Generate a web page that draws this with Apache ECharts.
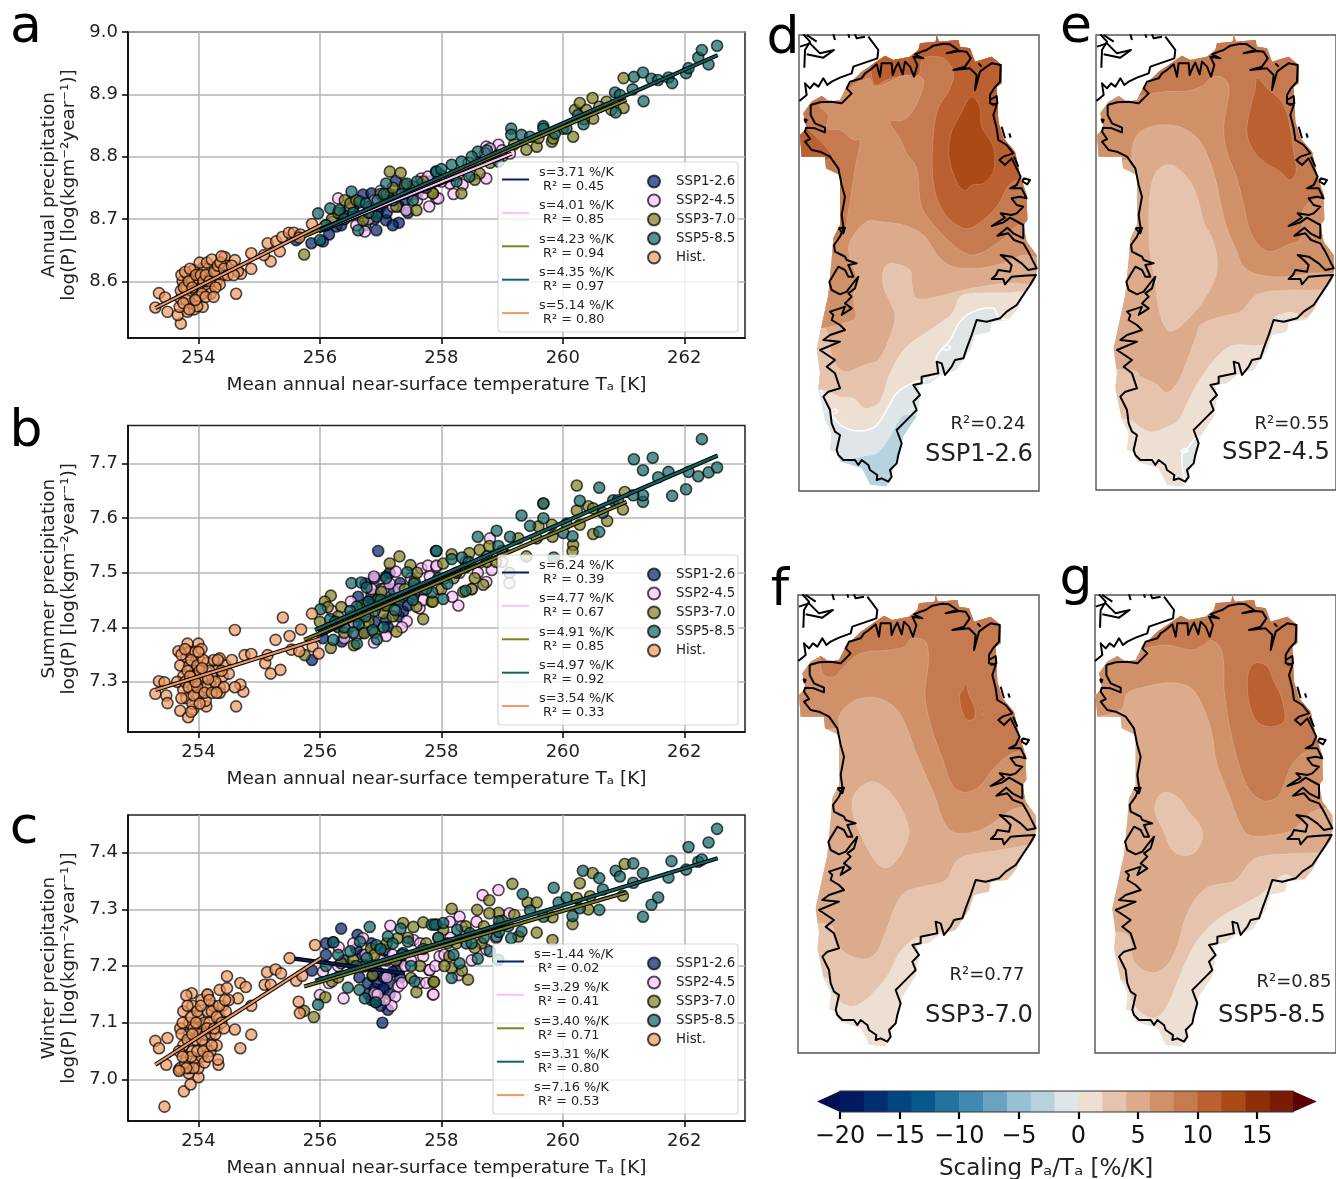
<!DOCTYPE html>
<html><head><meta charset="utf-8">
<style>html,body{margin:0;padding:0;background:#fff}#c{width:1336px;height:1179px}</style>
<script src="https://cdn.jsdelivr.net/npm/echarts@6/dist/echarts.min.js"></script>
</head><body><div id="c"></div>
<script>
const categories=['SSP1-2.6','SSP2-4.5','SSP3-7.0','SSP5-8.5','Hist.'];
const xTicks=[254,256,258,260,262];
const aTicks=[8.6,8.7,8.8,8.9,9.0], bTicks=[7.3,7.4,7.5,7.6,7.7], cTicks=[7.0,7.1,7.2,7.3,7.4];
const aStats=['s=3.71 %/K\n R² = 0.45','s=4.01 %/K\n R² = 0.85','s=4.23 %/K\n R² = 0.94','s=4.35 %/K\n R² = 0.97','s=5.14 %/K\n R² = 0.80'];
const bStats=['s=6.24 %/K\n R² = 0.39','s=4.77 %/K\n R² = 0.67','s=4.91 %/K\n R² = 0.85','s=4.97 %/K\n R² = 0.92','s=3.54 %/K\n R² = 0.33'];
const cStats=['s=-1.44 %/K\n R² = 0.02','s=3.29 %/K\n R² = 0.41','s=3.40 %/K\n R² = 0.71','s=3.31 %/K\n R² = 0.80','s=7.16 %/K\n R² = 0.53'];

// panel a: [temperature K, log P]
const aSsp1=[[255.86,8.661],[256.05,8.664],[256.93,8.682],[257.3,8.694],[257.09,8.698],[257.25,8.761],[256.71,8.739],[256.85,8.741],[256.27,8.688],[255.61,8.666],[256.4,8.71],[256.6,8.705],[256.9,8.7],[257,8.72],[257.1,8.71],[257.4,8.73],[257.6,8.74],[256.75,8.69],[256.55,8.72],[256.8,8.72],[256.95,8.71],[257.05,8.73],[257.2,8.69],[257.15,8.74],[257.3,8.72],[257.45,8.71],[256.35,8.69],[256.15,8.675],[257.7,8.75],[257.8,8.76]];
const aSsp2=[[256.3,8.733],[256.74,8.68],[257.67,8.765],[257.78,8.768],[257.42,8.714],[257.92,8.733],[257.95,8.733],[258.74,8.765],[258.74,8.816],[258.94,8.819],[258.8,8.813],[259.13,8.805],[258.72,8.805],[258.14,8.757],[258.28,8.773],[256.5,8.72],[256.6,8.69],[256.9,8.73],[257.2,8.72],[257.5,8.74],[258.45,8.79],[257,8.745],[257.8,8.72],[256.2,8.695],[256.4,8.7],[256.7,8.71],[256.8,8.7],[257.1,8.73],[257.3,8.74],[257.4,8.75],[257.6,8.73],[257.7,8.74],[258,8.76],[258.2,8.74],[258.35,8.755],[258.6,8.79],[258.5,8.77],[258.9,8.8],[259,8.81]];
const aSsp3=[[255.74,8.643],[256.41,8.73],[257.15,8.776],[257.33,8.774],[258.33,8.741],[257.86,8.741],[258.63,8.773],[258.55,8.763],[259.4,8.811],[259.57,8.816],[259.82,8.824],[259.84,8.829],[260.17,8.832],[260.2,8.875],[260.28,8.886],[260.49,8.894],[260.5,8.861],[261,8.926],[261,8.878],[260.39,8.875],[260.72,8.888],[257.53,8.752],[257.59,8.714],[257.26,8.72],[256.71,8.698],[256.2,8.7],[256.5,8.725],[257,8.74],[257.86,8.741],[256.1,8.69],[256.3,8.71],[256.6,8.73],[256.85,8.71],[257.1,8.74],[257.2,8.75],[257.4,8.755],[257.7,8.76],[258,8.77],[258.2,8.77],[258.8,8.79],[259,8.8],[259.2,8.82],[259.6,8.83],[260,8.845],[260.6,8.88],[260.8,8.875],[260.35,8.86]];
const aSsp5=[[255.97,8.709],[256.17,8.717],[256,8.666],[256.52,8.744],[256.63,8.682],[256.65,8.728],[256.76,8.725],[257.09,8.757],[257.43,8.757],[257.53,8.73],[257.91,8.776],[256.93,8.704],[256.32,8.714],[256.46,8.704],[257.92,8.776],[258.17,8.787],[258.33,8.792],[258.46,8.768],[258.6,8.808],[258.94,8.792],[259.15,8.845],[259.15,8.835],[259.32,8.835],[259.46,8.832],[259.68,8.849],[259.68,8.845],[259.87,8.837],[260.06,8.845],[260.34,8.852],[260.25,8.867],[260.86,8.903],[260.94,8.899],[260.87,8.871],[261.15,8.908],[261.17,8.928],[261.32,8.935],[261.33,8.889],[261.46,8.925],[261.57,8.923],[261.74,8.927],[261.8,8.918],[262.03,8.934],[262.07,8.942],[262.23,8.959],[262.4,8.948],[262.29,8.971],[262.54,8.978],[256.1,8.69],[256.4,8.7],[256.55,8.71],[256.8,8.71],[256.95,8.73],[257.05,8.74],[257.2,8.73],[257.35,8.74],[257.6,8.76],[257.75,8.75],[258,8.78],[258.25,8.76],[258.5,8.8],[258.75,8.81]];
const aHist=[[253.29,8.558],[253.35,8.581],[253.45,8.574],[253.49,8.551],[253.71,8.532],[253.66,8.546],[253.82,8.551],[253.93,8.555],[254.07,8.559],[253.69,8.559],[253.71,8.572],[253.71,8.585],[253.74,8.6],[253.82,8.608],[253.93,8.605],[254.07,8.621],[254.23,8.621],[254.34,8.618],[254.43,8.639],[254.6,8.634],[254.62,8.58],[254.87,8.645],[254.87,8.62],[254.7,8.612],[254.65,8.616],[255.14,8.661],[255.28,8.664],[255.19,8.632],[255.34,8.648],[255.08,8.642],[255.38,8.671],[255.49,8.678],[255.57,8.678],[255.68,8.675],[255.87,8.692],[255.66,8.67],[253.8,8.59],[253.85,8.575],[253.9,8.6],[253.95,8.585],[254,8.6],[254.05,8.59],[254,8.575],[253.88,8.565],[254.1,8.6],[254.15,8.585],[254.2,8.605],[254.25,8.6],[254.3,8.6],[254.4,8.61],[254.45,8.625],[254.35,8.595],[254.2,8.58],[254,8.61],[253.8,8.57],[253.92,8.618],[254.1,8.62],[254.3,8.615],[253.72,8.61],[253.76,8.59],[253.78,8.615],[253.84,8.6],[253.86,8.62],[253.9,8.59],[253.96,8.61],[253.98,8.56],[254.02,8.63],[254.04,8.61],[254.06,8.58],[254.08,8.6],[254.12,8.61],[254.14,8.63],[254.18,8.6],[254.22,8.635],[254.26,8.615],[254.28,8.59],[254.32,8.625],[254.36,8.63],[254.38,8.64],[254.42,8.62],[254.48,8.61],[254.55,8.625],[254.58,8.61],[253.75,8.565],[253.85,8.555],[253.95,8.57],[254.12,8.575],[254.25,8.575]];
// panel b
const bSsp1=[[256.96,7.54],[255.87,7.34],[256.63,7.456],[257.37,7.429],[257.09,7.493],[257.32,7.481],[256.36,7.374],[256.05,7.38],[257.09,7.414],[256.8,7.447],[257.37,7.456],[256.5,7.42],[256.9,7.41],[257.15,7.45],[256.7,7.39],[257,7.47],[256.3,7.4],[256.6,7.41],[256.75,7.44],[256.85,7.46],[256.95,7.45],[257.05,7.44],[257.12,7.4],[257.2,7.47],[257.25,7.45],[257.3,7.42],[257.45,7.44],[257.55,7.46],[256.75,7.48],[256.9,7.49],[257.15,7.5]];
const bSsp2=[[256.89,7.493],[257.43,7.411],[257.09,7.384],[256.89,7.372],[256.51,7.447],[257.25,7.502],[257.67,7.508],[257.78,7.513],[257.92,7.511],[257.92,7.513],[258.28,7.44],[258.18,7.456],[258.74,7.483],[258.8,7.563],[258.83,7.505],[259.12,7.481],[257.81,7.493],[256.65,7.43],[256.95,7.44],[257.25,7.43],[257.6,7.47],[258.4,7.52],[258.6,7.5],[257.64,7.435],[256.2,7.43],[256.3,7.41],[256.45,7.4],[256.55,7.41],[256.8,7.42],[256.85,7.47],[257.05,7.47],[257.15,7.48],[257.3,7.47],[257.5,7.49],[257.7,7.45],[257.95,7.47],[258.05,7.49],[258.3,7.5],[258.5,7.47],[258.65,7.52],[259,7.52],[256.4,7.38],[256.6,7.385],[257.35,7.4]];
const bSsp3=[[256.18,7.458],[256.08,7.447],[256.13,7.437],[256.35,7.437],[256.18,7.362],[255.75,7.349],[257.15,7.517],[257.31,7.53],[257.49,7.514],[257.56,7.484],[257.7,7.415],[257.26,7.392],[256.56,7.367],[257.01,7.465],[257.04,7.426],[256.73,7.389],[257.59,7.438],[257.84,7.447],[260.23,7.66],[259.68,7.627],[260.23,7.614],[260.42,7.622],[260.5,7.618],[261.02,7.648],[260.99,7.616],[260.73,7.595],[260.5,7.571],[260.28,7.588],[260.17,7.551],[260.16,7.539],[259.83,7.566],[259.57,7.563],[259.82,7.588],[259.6,7.585],[259.27,7.563],[259.4,7.53],[259.12,7.5],[258.69,7.478],[258.55,7.49],[258.36,7.465],[258.17,7.534],[258.03,7.517],[257.86,7.447],[258.63,7.542],[258.46,7.536],[258.79,7.549],[256.3,7.42],[256.4,7.39],[256.6,7.42],[256.7,7.44],[256.8,7.41],[256.9,7.39],[256.95,7.45],[257.1,7.44],[257.2,7.42],[257.4,7.47],[257.6,7.5],[257.7,7.47],[258,7.47],[258.2,7.49],[258.4,7.51],[258.5,7.47],[258.75,7.52],[258.9,7.52],[259,7.54],[256,7.41]];
const bSsp5=[[256.01,7.433],[256.17,7.415],[256.22,7.377],[256.52,7.481],[256.68,7.482],[256.77,7.473],[256.61,7.438],[256.64,7.406],[256.61,7.37],[256.87,7.395],[256.94,7.378],[257.09,7.49],[257.23,7.432],[257.44,7.501],[257.53,7.45],[257.85,7.464],[257.91,7.54],[256.8,7.447],[257.92,7.54],[258.17,7.525],[258.34,7.528],[258.03,7.452],[258.4,7.467],[258.6,7.566],[258.91,7.577],[258.94,7.549],[259.13,7.566],[259.32,7.605],[259.46,7.586],[259.68,7.627],[259.68,7.6],[259.85,7.528],[260.01,7.573],[260.06,7.59],[260.16,7.567],[260.28,7.632],[260.6,7.656],[260.6,7.575],[260.66,7.61],[260.83,7.633],[260.91,7.633],[261.17,7.708],[261.32,7.688],[261.48,7.711],[261.32,7.63],[261.32,7.642],[261.16,7.642],[261.57,7.675],[261.74,7.685],[261.8,7.641],[262.03,7.653],[262.07,7.685],[262.23,7.677],[262.4,7.684],[262.54,7.693],[262.29,7.745],[256.25,7.41],[256.4,7.4],[256.5,7.43],[256.55,7.39],[256.75,7.42],[256.9,7.43],[257,7.45],[257.05,7.4],[257.3,7.45],[257.55,7.48],[257.75,7.47],[257.95,7.49],[258.1,7.48],[258.25,7.5],[258.45,7.52],[258.75,7.53]];
const bHist=[[253.29,7.278],[253.35,7.301],[253.44,7.299],[253.47,7.275],[253.49,7.261],[253.7,7.247],[253.83,7.235],[253.91,7.249],[254.13,7.255],[254.62,7.255],[254.74,7.282],[254.69,7.295],[254.6,7.395],[253.82,7.37],[254,7.37],[253.67,7.356],[254.35,7.343],[254.76,7.349],[254.87,7.351],[255.1,7.334],[255.14,7.349],[255.19,7.315],[255.35,7.322],[255.27,7.377],[255.39,7.418],[255.5,7.384],[255.53,7.359],[255.69,7.396],[255.87,7.425],[255.66,7.356],[255.88,7.365],[255.98,7.352],[253.7,7.33],[253.75,7.31],[253.8,7.345],[253.85,7.33],[253.85,7.355],[253.9,7.29],[253.95,7.32],[254,7.345],[254,7.3],[254.05,7.28],[254.1,7.31],[254.15,7.335],[254.2,7.295],[254.25,7.34],[254.3,7.32],[254.35,7.29],[254.4,7.31],[254.45,7.33],[254.5,7.315],[254.55,7.34],[253.75,7.285],[253.8,7.27],[253.9,7.26],[254,7.275],[254.12,7.265],[253.95,7.355],[254.05,7.36],[253.65,7.3],[254.35,7.28],[254.6,7.29],[253.72,7.35],[253.78,7.36],[253.82,7.32],[253.88,7.34],[253.92,7.31],[253.98,7.33],[254.02,7.32],[254.08,7.34],[254.12,7.29],[254.18,7.32],[254.22,7.31],[254.28,7.3],[254.32,7.34],[254.38,7.32],[254.42,7.29],[253.78,7.3],[253.84,7.29],[253.92,7.275],[253.98,7.29],[254.02,7.26],[254.1,7.28],[254.22,7.28],[253.72,7.27],[253.86,7.31],[254,7.355],[253.95,7.3],[254.06,7.325],[254.16,7.305],[254.3,7.28],[253.88,7.245]];
// panel c
const cSsp1=[[256.35,7.266],[256.1,7.24],[256.22,7.242],[255.87,7.192],[257.03,7.1],[257.12,7.123],[256.92,7.137],[256.62,7.255],[257.07,7.229],[257.37,7.223],[257.32,7.179],[256.79,7.17],[256.98,7.158],[256.87,7.182],[257.14,7.17],[257.26,7.193],[256.65,7.18],[256.9,7.16],[257,7.13],[256.95,7.19],[256.7,7.22],[256.1,7.22],[256.4,7.21],[256.55,7.2],[256.75,7.2],[256.8,7.15],[256.85,7.14],[256.95,7.17],[257.05,7.16],[257.1,7.21],[257.15,7.15],[257.2,7.19],[257.3,7.21],[256.6,7.23],[256.85,7.24],[257.05,7.18],[256.98,7.14]];
const cSsp2=[[256.39,7.143],[256.05,7.19],[256.31,7.233],[256.71,7.249],[257.16,7.271],[257.54,7.246],[257.24,7.146],[257.18,7.13],[256.9,7.152],[257.07,7.14],[256,7.149],[257.29,7.164],[257.86,7.15],[257.8,7.193],[257.64,7.17],[257.87,7.15],[257.81,7.193],[258.14,7.278],[258.3,7.287],[258.33,7.27],[258.58,7.278],[258.68,7.325],[258.94,7.334],[259.12,7.293],[258.74,7.229],[258.28,7.184],[257.97,7.217],[257.7,7.217],[256.15,7.17],[256.3,7.2],[256.55,7.24],[256.75,7.22],[257,7.21],[257.1,7.18],[257.2,7.22],[257.4,7.2],[257.5,7.21],[257.65,7.24],[257.75,7.17],[257.9,7.2],[258.05,7.22],[258.15,7.25],[258.4,7.26],[258.5,7.21],[258.9,7.25],[256.95,7.15],[257.35,7.17]];
const cSsp3=[[256.09,7.145],[255.9,7.11],[255.74,7.121],[256.2,7.173],[257.37,7.276],[257.54,7.269],[257.7,7.277],[257.59,7.154],[257.87,7.172],[257.5,7.179],[257.28,7.249],[256.84,7.231],[256.35,7.205],[256.71,7.199],[256.87,7.184],[257.88,7.172],[258.17,7.301],[258.59,7.299],[258.79,7.316],[258.94,7.294],[258.79,7.293],[259.17,7.345],[259.42,7.312],[259.57,7.312],[259.57,7.259],[259.83,7.246],[259.83,7.286],[260.16,7.274],[260.23,7.32],[260.28,7.346],[260.49,7.364],[260.45,7.323],[260.42,7.3],[260.99,7.324],[261.02,7.38],[258.44,7.176],[258.34,7.192],[258.17,7.196],[258.13,7.217],[258.66,7.24],[258.55,7.232],[259.27,7.252],[258.95,7.27],[258.03,7.264],[256.3,7.18],[256.55,7.21],[256.9,7.22],[257.1,7.24],[257.25,7.21],[257.45,7.25],[257.65,7.2],[257.75,7.24],[257.95,7.25],[258.05,7.2],[258.25,7.24],[258.4,7.27],[258.7,7.27],[259,7.28],[259.2,7.29]];
const cSsp5=[[255.97,7.132],[256.22,7.242],[256.82,7.269],[256.46,7.162],[256.65,7.158],[256.74,7.143],[256.92,7.136],[257.12,7.252],[256.93,7.237],[256.66,7.243],[256.5,7.226],[256.77,7.214],[257.33,7.266],[257.45,7.243],[257.56,7.173],[257.84,7.273],[257.92,7.273],[257.89,7.273],[258.03,7.276],[258.26,7.264],[258.47,7.258],[258.41,7.24],[258.17,7.179],[258.3,7.205],[258.6,7.213],[258.8,7.226],[258.94,7.211],[258.91,7.252],[258.95,7.279],[259.15,7.249],[259.34,7.327],[259.32,7.261],[259.46,7.298],[259.68,7.287],[259.85,7.338],[259.93,7.312],[260.06,7.321],[260.16,7.288],[260.28,7.302],[260.33,7.368],[260.6,7.355],[260.6,7.299],[260.66,7.335],[260.87,7.368],[260.94,7.358],[261.16,7.381],[261.16,7.347],[261.32,7.364],[261.32,7.287],[261.46,7.308],[261.57,7.321],[261.74,7.356],[261.79,7.385],[262.03,7.37],[262.07,7.41],[262.23,7.384],[262.29,7.388],[262.4,7.418],[262.54,7.442],[256.1,7.2],[256.3,7.22],[256.6,7.2],[256.85,7.2],[257,7.23],[257.2,7.24],[257.35,7.22],[257.5,7.2],[257.7,7.23],[257.95,7.25],[258.1,7.24],[258.2,7.22],[258.5,7.24],[258.7,7.25],[258.95,7.26],[259.1,7.27]];
const cHist=[[253.44,6.952],[253.76,6.979],[253.87,6.991],[254,7.004],[253.29,7.068],[253.35,7.055],[253.49,7.073],[253.47,7.026],[253.68,7.017],[253.84,7.011],[254.33,7.026],[254.32,7.035],[254.69,7.055],[254.87,7.079],[254.6,7.088],[253.89,7.152],[253.8,7.148],[254.15,7.149],[254.35,7.158],[254.47,7.182],[254.47,7.161],[254.69,7.17],[254.78,7.163],[254.65,7.143],[254.87,7.13],[255.09,7.167],[255.19,7.167],[255.13,7.189],[255.27,7.194],[255.36,7.187],[255.5,7.214],[255.61,7.174],[255.71,7.183],[255.92,7.237],[255.65,7.137],[255.67,7.117],[253.7,7.09],[253.75,7.06],[253.75,7.12],[253.8,7.04],[253.85,7.1],[253.85,7.08],[253.9,7.13],[253.9,7.05],[253.95,7.03],[253.95,7.07],[254,7.11],[254,7.09],[254.05,7.04],[254.05,7.14],[254.1,7.06],[254.1,7.1],[254.15,7.12],[254.2,7.08],[254.2,7.05],[254.25,7.13],[254.3,7.09],[254.3,7.06],[254.35,7.11],[254.4,7.13],[254.45,7.12],[254.5,7.14],[253.85,7.02],[254,7.02],[253.7,7.02],[254.1,7.03],[254.15,7.15],[253.68,7.05],[253.72,7.08],[253.74,7.1],[253.78,7.03],[253.82,7.07],[253.82,7.13],[253.88,7.04],[253.88,7.11],[253.92,7.09],[253.92,7.02],[253.98,7.12],[253.98,7.05],[254.02,7.08],[254.04,7.13],[254.08,7.05],[254.12,7.08],[254.16,7.04],[254.18,7.1],[254.22,7.06],[254.22,7.12],[254.28,7.08],[254.3,7.11],[254.34,7.13],[254.38,7.1],[254.42,7.09],[254.44,7.14],[253.74,7.04],[253.8,7.02],[253.9,7.08],[253.96,7.1],[254.06,7.07],[254.14,7.09],[254.18,7.14],[254.26,7.09],[253.68,7.015]];
// fit lines (start, end)
const aFit=[[[255.95,8.682],[258.2,8.765]],[[255.98,8.68],[259.16,8.805]],[[255.74,8.672],[261.05,8.891]],[[256,8.682],[262.55,8.963]],[[253.29,8.557],[256.02,8.69]]];
const bFit=[[[256,7.385],[258.5,7.52]],[[255.98,7.39],[259.13,7.54]],[[255.74,7.377],[261.05,7.63]],[[255.92,7.395],[262.55,7.715]],[[253.29,7.285],[256,7.379]]];
const cFit=[[[255.58,7.213],[257.4,7.187]],[[255.95,7.175],[259.13,7.27]],[[255.74,7.164],[261.05,7.33]],[[255.92,7.174],[262.55,7.39]],[[253.29,7.026],[256.02,7.214]]];

// colour scale
const cbLower=[-20,-18,-16,-14,-12,-10,-8,-6,-4,-2,0,2,4,6,8,10,12,14,16];
const cbColors=['#03195f','#032f70','#044580','#055a8b','#23739f','#4289b1','#6ba2c0','#97c0d3','#b8d3e0','#e0e5e8','#eedfd3','#e6c3ad','#dcab8b','#d09169','#c67a50','#bb6030','#aa4a15','#8e2f07','#7a1b06'];
const cbTicks=[-20,-15,-10,-5,0,5,10,15];

// maps: outlines in map units, bands = [lower bound %/K, outline]
const iceMask=[[35,395],[30,330],[50,310],[40,265],[65,230],[95,213],[120,230],[150,225],[170,185],[215,140],[245,120],[285,92],[310,105],[360,95],[385,75],[390,55],[437,50],[440,30],[447,50],[505,45],[510,65],[540,70],[555,110],[605,95],[635,120],[635,175],[620,185],[625,290],[640,340],[675,380],[690,450],[710,510],[712,585],[700,600],[710,650],[740,690],[742,730],[735,765],[700,815],[680,855],[655,885],[605,890],[600,920],[555,930],[540,975],[500,1035],[450,1050],[420,1075],[385,1080],[390,1115],[380,1175],[340,1235],[330,1285],[300,1355],[290,1385],[240,1380],[215,1330],[150,1310],[140,1280],[120,1275],[125,1225],[105,1185],[85,1090],[90,1045],[80,970],[115,810],[125,705],[130,640],[150,600],[150,450],[108,430],[105,395]];
const coastMain=[[62,240],[90,232],[125,230],[155,235],[185,205],[170,190],[180,170],[215,160],[225,145],[240,135],[260,118],[270,155],[275,115],[305,115],[308,150],[318,125],[325,113],[338,148],[345,110],[360,125],[372,155],[382,120],[370,95],[400,100],[375,88],[395,80],[410,75],[430,62],[460,56],[480,58],[505,75],[470,85],[510,78],[530,80],[542,100],[525,125],[490,135],[540,130],[560,150],[555,195],[570,140],[590,125],[605,115],[632,120],[630,170],[612,190],[600,210],[600,235],[620,240],[610,270],[620,310],[625,345],[650,360],[670,385],[640,395],[628,405],[645,420],[665,400],[680,430],[692,455],[680,480],[660,490],[695,490],[710,520],[690,515],[665,520],[680,540],[700,545],[680,565],[665,570],[632,565],[645,578],[605,603],[640,592],[660,578],[700,600],[700,640],[670,625],[652,608],[622,632],[655,625],[672,645],[700,655],[715,680],[725,700],[740,730],[715,735],[695,715],[665,695],[632,690],[650,705],[665,720],[660,740],[625,735],[618,750],[605,762],[640,762],[645,778],[665,755],[700,752],[738,750],[720,780],[700,810],[680,840],[650,860],[630,880],[590,890],[560,885],[555,900],[545,930],[530,970],[520,1000],[495,1005],[485,1025],[465,1050],[455,1015],[440,1010],[445,1045],[420,1050],[395,1055],[395,1075],[370,1080],[390,1110],[370,1130],[380,1155],[360,1175],[340,1195],[320,1215],[335,1255],[325,1290],[320,1315],[300,1335],[305,1355],[295,1370],[275,1360],[260,1365],[262,1350],[240,1335],[235,1320],[215,1305],[205,1320],[195,1305],[160,1305],[145,1290],[140,1275],[150,1230],[135,1220],[125,1195],[120,1155],[100,1115],[115,1100],[150,1090],[135,1045],[110,1025],[135,1005],[90,975],[150,950],[100,945],[120,930],[165,915],[150,900],[125,885],[130,870],[120,860],[150,850],[165,845],[155,870],[185,850],[165,835],[185,815],[175,805],[195,790],[205,755],[185,780],[170,800],[150,808],[125,795],[118,770],[130,750],[145,725],[165,735],[175,755],[190,755],[175,720],[200,715],[170,705],[165,695],[155,690],[135,680],[132,660],[150,635],[158,615],[160,605],[155,570],[165,515],[155,480],[145,430],[120,395],[90,380],[65,375],[45,350],[60,342],[45,320],[48,308],[75,310],[105,322],[105,308],[75,295],[62,270],[62,240]];
const coastOther=[
 [[40,28],[60,50],[45,75],[43,128]],
 [[50,88],[100,98],[132,75],[90,85],[60,55],[30,65]],
 [[28,228],[50,210],[45,175],[60,190],[72,175],[85,185],[100,160],[112,180],[125,170],[150,158],[185,145],[190,125],[262,100],[265,75],[235,35]],
 [[130,28],[135,45]],[[175,28],[178,38]],[[195,28],[200,40],[225,35]],[[50,30],[80,50]],
 [[700,460],[720,465],[712,478],[698,470],[700,460]],[[43,282],[50,285],[47,292],[43,282]],
 [[635,305],[645,340]],[[658,325],[662,338]],[[565,115],[575,125]],[[672,395],[685,425]],
 [[600,225],[620,213],[622,235],[605,240]],[[145,610],[165,608],[160,625],[145,610]]
];
const dBands=[
 [-4,iceMask],
 [-2,[[0,0],[800,0],[800,1170],[345,1170],[330,1180],[300,1235],[260,1285],[215,1295],[165,1305],[140,1305],[0,1290]]],
 [0,[[0,0],[800,0],[800,880],[630,880],[610,850],[550,860],[510,890],[480,945],[440,995],[440,1050],[365,1075],[320,1105],[290,1155],[255,1205],[205,1218],[160,1205],[125,1170],[105,1125],[88,1090],[0,1090]]],
 [2,[[0,0],[800,0],[800,770],[690,800],[550,805],[510,815],[490,860],[470,880],[420,915],[345,970],[300,1045],[280,1105],[265,1135],[225,1150],[190,1120],[150,1115],[100,1095],[0,1095]]],
 [4,[[0,0],[800,0],[800,760],[650,775],[570,785],[500,800],[440,815],[380,820],[365,775],[360,735],[300,715],[280,735],[280,785],[300,830],[315,875],[300,935],[265,1005],[240,1015],[210,1025],[165,1040],[130,1005],[100,900],[0,880]]],
 [6,[[0,0],[800,0],[800,700],[700,690],[665,705],[620,720],[560,730],[490,725],[450,700],[400,630],[340,600],[270,590],[230,590],[180,650],[180,705],[200,755],[190,815],[190,885],[0,885]]],
 [8,[[0,0],[800,0],[800,620],[690,600],[640,640],[600,670],[545,690],[490,660],[440,610],[395,545],[380,430],[350,385],[330,340],[300,290],[340,285],[370,255],[395,200],[400,165],[380,150],[340,152],[255,185],[235,160],[170,195],[90,240],[115,270],[110,310],[150,315],[190,345],[210,345],[195,430],[175,560],[150,640],[0,640]]],
 [10,[[230,0],[800,0],[800,450],[670,470],[620,545],[560,600],[520,610],[460,560],[430,470],[430,330],[445,250],[480,190],[490,140],[460,100],[400,100],[385,150],[350,150],[290,165],[255,180],[240,110]]],
 [10,[[20,300],[50,310],[115,375],[125,400],[20,410]]],
 [12,[[545,215],[570,250],[575,305],[610,365],[610,440],[580,475],[545,480],[525,497],[500,470],[478,400],[482,330],[510,270]]]
];
const eBands=[
 [-2,iceMask],
 [0,[[0,0],[800,0],[800,1235],[335,1235],[305,1265],[285,1290],[280,1400],[0,1400]]],
 [2,[[0,0],[800,0],[800,880],[660,880],[615,862],[590,865],[560,880],[555,920],[530,958],[440,960],[400,985],[340,1060],[300,1135],[275,1185],[240,1205],[195,1220],[165,1210],[130,1185],[0,1160]]],
 [4,[[0,0],[800,0],[800,775],[680,795],[620,795],[540,800],[500,815],[460,860],[400,875],[340,900],[325,940],[295,1020],[270,1075],[238,1102],[205,1075],[160,1055],[150,1040],[0,1000]]],
 [6,[[0,0],[800,0],[800,720],[670,745],[600,755],[520,750],[470,725],[450,680],[420,610],[400,530],[385,460],[365,400],[340,350],[300,315],[250,300],[190,305],[150,330],[135,370],[130,400],[0,420]]],
 [8,[[130,0],[800,0],[800,510],[700,520],[650,550],[640,640],[600,660],[550,680],[520,665],[490,620],[470,540],[450,460],[420,380],[410,310],[420,240],[425,180],[400,155],[370,160],[350,180],[300,198],[230,200],[150,215],[130,220]]],
 [10,[[510,160],[540,190],[580,225],[600,265],[610,310],[620,380],[627,440],[608,465],[580,440],[530,410],[495,370],[480,320],[490,250],[505,190]]],
 [2,[[235,420],[265,425],[310,470],[335,530],[350,590],[375,640],[390,700],[385,760],[340,840],[300,885],[265,915],[240,915],[215,850],[205,770],[190,690],[185,590],[190,500],[205,445]]]
];
const fBands=[
 [0,iceMask],
 [2,[[0,0],[800,0],[800,1040],[440,1040],[410,1050],[370,1065],[330,1105],[300,1165],[260,1215],[210,1258],[175,1262],[140,1235],[115,1180],[0,1170]]],
 [4,[[0,0],[800,0],[800,765],[720,780],[620,797],[530,812],[500,830],[470,885],[400,905],[350,920],[320,960],[290,1040],[260,1105],[225,1122],[170,1105],[145,1075],[125,1020],[0,1000]]],
 [6,[[0,0],[800,0],[800,650],[680,670],[610,715],[560,740],[490,740],[460,700],[440,640],[410,570],[380,500],[350,420],[320,370],[270,340],[215,340],[170,365],[150,395],[145,430],[0,410]]],
 [8,[[95,0],[800,0],[800,470],[670,505],[615,550],[570,605],[525,622],[490,600],[460,520],[425,420],[408,330],[418,230],[410,170],[370,160],[345,185],[300,195],[215,205],[165,245],[135,275],[105,270],[95,240]]],
 [10,[[530,295],[540,330],[557,370],[555,400],[535,405],[518,375],[512,330],[522,315]]],
 [10,[[578,365],[583,378],[583,390],[577,378]]],
 [2,[[245,590],[285,605],[325,650],[350,700],[360,745],[340,800],[310,840],[285,848],[260,830],[225,770],[195,700],[190,650],[205,615]]]
];
const gBands=[
 [0,iceMask],
 [2,[[0,0],[800,0],[800,880],[630,880],[600,868],[570,885],[530,925],[470,960],[400,1000],[340,1060],[300,1130],[275,1190],[240,1270],[210,1298],[175,1290],[140,1250],[120,1190],[0,1170]]],
 [4,[[0,0],[800,0],[800,770],[720,800],[640,805],[520,815],[490,835],[450,885],[370,905],[330,940],[295,1010],[275,1080],[245,1140],[200,1163],[145,1130],[125,1050],[0,1020]]],
 [6,[[0,0],[800,0],[800,640],[680,680],[620,735],[560,750],[490,750],[460,710],[430,630],[395,540],[375,430],[340,340],[310,305],[250,293],[180,305],[125,325],[105,375],[0,380]]],
 [8,[[150,0],[800,0],[800,480],[680,490],[625,530],[605,570],[580,630],[540,648],[500,625],[470,570],[435,440],[415,310],[415,250],[405,190],[375,165],[355,180],[320,195],[240,180],[165,195],[150,210]]],
 [10,[[515,233],[545,245],[565,290],[585,330],[598,390],[590,415],[550,425],[515,410],[492,360],[485,290],[495,245]]],
 [2,[[240,622],[275,635],[310,680],[345,725],[350,760],[330,800],[295,812],[260,795],[235,740],[208,680],[215,640]]]
];
const dLoops=[[[455,970],[470,960],[483,968],[470,977],[455,970]],[[120,1160],[135,1152],[143,1160],[130,1168],[120,1160]]];
const eLoops=[[[280,1277],[292,1270],[304,1277],[292,1284],[280,1277]]];
const mapNames=['SSP1-2.6','SSP2-4.5','SSP3-7.0','SSP5-8.5'];
const mapR2=['R²=0.24','R²=0.55','R²=0.77','R²=0.85'];
const panelLetters=['a','b','c','d','e','f','g'];

const FONT='DejaVu Sans';
const seriesColors=['#00206e','#ffbfff','#808020','#106464','#f09860'];
const series=[],grids=[],xAxes=[],yAxes=[],legends=[],graphics=[];

function addScatterPanel(o){
  const g=grids.length;
  grids.push({left:128,top:o.top,width:617,height:o.height,show:true,borderColor:'#222',borderWidth:1.5,backgroundColor:'transparent'});
  xAxes.push({type:'value',gridIndex:g,min:252.84,max:263.0,
    name:'Mean annual near-surface temperature Tₐ [K]',nameLocation:'middle',nameGap:38,nameTextStyle:{fontSize:18.5,color:'#222'},
    axisLine:{onZero:false,show:true,lineStyle:{color:'#000',width:1.5}},
    axisTick:{show:true,length:6,customValues:xTicks,lineStyle:{color:'#000',width:1.5}},
    axisLabel:{customValues:xTicks,fontSize:18,color:'#222',margin:11,formatter:v=>String(v)},
    splitLine:{show:true,lineStyle:{color:'#b4b4b4',width:1.5}}});
  yAxes.push({type:'value',gridIndex:g,min:o.ymin,max:o.ymax,
    name:o.ylabel+'\nlog(P) [log(kgm⁻²year⁻¹)]',nameLocation:'middle',nameGap:49,nameRotate:90,nameTextStyle:{fontSize:18.4,color:'#222',lineHeight:20},
    axisLine:{show:true,lineStyle:{color:'#000',width:1.5}},
    axisTick:{show:true,length:6,customValues:o.ticks,lineStyle:{color:'#000',width:1.5}},
    axisLabel:{customValues:o.ticks,fontSize:18,color:'#222',margin:10,formatter:v=>v.toFixed(1)},
    splitLine:{show:true,lineStyle:{color:'#b4b4b4',width:1.5}}});
  o.pts.forEach((d,i)=>series.push({type:'scatter',name:categories[i],xAxisIndex:g,yAxisIndex:g,data:d,symbol:'circle',symbolSize:11,z:2,silent:true,
    itemStyle:{color:seriesColors[i],opacity:0.7,borderColor:'#000',borderWidth:1.6}}));
  o.fit.forEach((d,i)=>{
    series.push({type:'line',name:'outline',xAxisIndex:g,yAxisIndex:g,data:d,symbol:'none',z:3,silent:true,lineStyle:{color:'#000',width:4.2,cap:'butt'},itemStyle:{color:'#000'}});
    series.push({type:'line',name:o.stats[i],xAxisIndex:g,yAxisIndex:g,data:d,symbol:'none',z:3,silent:true,lineStyle:{color:seriesColors[i],width:2,cap:'butt'},itemStyle:{color:seriesColors[i]}});
  });
  graphics.push({type:'rect',z:5,shape:{x:o.lx,y:o.ly,width:738-o.lx,height:170,r:3},style:{fill:'rgba(255,255,255,0.8)',stroke:'rgba(204,204,204,0.8)',lineWidth:1.2}});
  legends.push({left:o.lineLeft,top:o.ly+3.5,orient:'vertical',padding:0,icon:'rect',itemWidth:27,itemHeight:2,itemGap:5.4,z:6,selectedMode:false,data:o.stats,
    textStyle:{fontSize:12.8,lineHeight:14,color:'#222',padding:[0,0,0,5]}});
  legends.push({left:647,top:o.ly+12,orient:'vertical',padding:0,itemWidth:12,itemHeight:12,itemGap:4,z:6,selectedMode:false,data:categories,
    textStyle:{fontSize:13.3,lineHeight:15,color:'#222',padding:[0,0,0,11]}});
}
addScatterPanel({top:32,height:306,ymin:8.509,ymax:9.0,ticks:aTicks,ylabel:'Annual precipitation',pts:[aSsp1,aSsp2,aSsp3,aSsp5,aHist],fit:aFit,stats:aStats,lx:498,ly:162,lineLeft:502});
addScatterPanel({top:425.5,height:306.5,ymin:7.208,ymax:7.77,ticks:bTicks,ylabel:'Summer precipitation',pts:[bSsp1,bSsp2,bSsp3,bSsp5,bHist],fit:bFit,stats:bStats,lx:498,ly:555,lineLeft:502});
addScatterPanel({top:815,height:306.3,ymin:6.9267,ymax:7.4664,ticks:cTicks,ylabel:'Winter precipitation',pts:[cSsp1,cSsp2,cSsp3,cSsp5,cHist],fit:cFit,stats:cStats,lx:493,ly:944,lineLeft:497});

function addMap(o){
  const g=grids.length;
  grids.push({left:o.left,top:o.top,width:o.w,height:o.h,show:true,borderColor:'#555',borderWidth:1.4,backgroundColor:'#fff'});
  xAxes.push({type:'value',gridIndex:g,min:o.x0,max:o.x1,show:false});
  yAxes.push({type:'value',gridIndex:g,min:30,max:o.y1,inverse:true,show:false});
  series.push({type:'custom',coordinateSystem:'cartesian2d',xAxisIndex:g,yAxisIndex:g,silent:true,z:2,clip:true,
    data:o.bands.map((b,i)=>[b[1][0][0],b[1][0][1],i]),encode:{x:0,y:1},
    renderItem(params,api){
      const b=o.bands[params.dataIndex];
      const pts=b[1].map(q=>api.coord(q));
      const clipPts=iceMask.map(q=>api.coord(q));
      const col=cbColors[cbLower.indexOf(b[0])];
      const isBase=params.dataIndex===0;
      return {type:'polygon',shape:{points:pts,smooth:isBase?0:0.35},
        style:{fill:col,stroke:b[0]===0&&!isBase?'#fff':'rgba(255,255,255,0.22)',lineWidth:b[0]===0&&!isBase?1.5:0.8},
        clipPath:{type:'polygon',shape:{points:clipPts}}};
    }});
  (o.loops||[]).forEach(l=>series.push({type:'line',xAxisIndex:g,yAxisIndex:g,data:l,symbol:'none',z:3,silent:true,lineStyle:{color:'#fff',width:1.2}}));
  [coastMain,...coastOther].forEach(l=>series.push({type:'line',xAxisIndex:g,yAxisIndex:g,data:l,symbol:'none',z:4,silent:true,clip:true,lineStyle:{color:'#000',width:2,join:'round'}}));
  graphics.push({type:'text',z:7,style:{x:o.rx,y:o.ry,text:o.r2,font:'18px "DejaVu Sans"',fill:'#222',textAlign:'center',textVerticalAlign:'middle'}});
  graphics.push({type:'text',z:7,style:{x:o.nx,y:o.ny,text:o.name,font:'24.2px "DejaVu Sans"',fill:'#222',textAlign:'center',textVerticalAlign:'middle'}});
}
addMap({left:799,top:35,w:240,h:456,x0:27,x1:747,y1:1398,bands:dBands,loops:dLoops,r2:mapR2[0],name:mapNames[0],rx:988,ry:424,nx:979,ny:455});
addMap({left:1096,top:35,w:240,h:455,x0:27,x1:747,y1:1395,bands:eBands,loops:eLoops,r2:mapR2[1],name:mapNames[1],rx:1292,ry:424,nx:1276,ny:453});
addMap({left:798,top:595,w:241,h:458,x0:27,x1:750,y1:1404,bands:fBands,r2:mapR2[2],name:mapNames[2],rx:987,ry:975,nx:979,ny:1016});
addMap({left:1095,top:595,w:241,h:458,x0:28,x1:751,y1:1404,bands:gBands,r2:mapR2[3],name:mapNames[3],rx:1294,ry:982,nx:1272,ny:1016});

// colour bar
(function(){
  const g=grids.length;
  grids.push({left:840,top:1091,width:453,height:21,show:false});
  xAxes.push({type:'value',gridIndex:g,min:-20,max:18,
    axisLine:{show:false,onZero:false},splitLine:{show:false},
    axisTick:{show:true,length:7,customValues:cbTicks,lineStyle:{color:'#000',width:2.2}},
    axisLabel:{customValues:cbTicks,fontSize:24,color:'#111',margin:13,formatter:v=>String(v).replace('-','−')}});
  yAxes.push({type:'value',gridIndex:g,min:0,max:1,show:false});
  series.push({type:'custom',coordinateSystem:'cartesian2d',xAxisIndex:g,yAxisIndex:g,silent:true,z:2,clip:false,
    data:cbLower.map((v,i)=>[v,cbLower[i]+2,i]),encode:{x:[0,1]},
    renderItem(p,api){const a=api.coord([api.value(0),0]),b=api.coord([api.value(1),1]);
      return {type:'rect',shape:{x:a[0],y:b[1],width:b[0]-a[0]+0.5,height:a[1]-b[1]},style:{fill:cbColors[api.value(2)]}};}});
  series.push({type:'custom',coordinateSystem:'cartesian2d',xAxisIndex:g,yAxisIndex:g,silent:true,z:2,clip:false,
    data:[[-20,-21.93],[18,20]],encode:{x:[0,1]},
    renderItem(p,api){const s=api.value(0),e=api.value(1);
      return {type:'polygon',shape:{points:[api.coord([s,0]),api.coord([e,0.5]),api.coord([s,1])]},style:{fill:p.dataIndex?'#590008':'#00104f'}};}});
  series.push({type:'line',xAxisIndex:g,yAxisIndex:g,clip:false,symbol:'none',silent:true,z:3,
    data:[[-20,0],[-21.93,0.5],[-20,1],[18,1],[20,0.5],[18,0],[-20,0]],lineStyle:{color:'#333',width:1}});
  graphics.push({type:'text',z:7,style:{x:1046,y:1169,text:'Scaling Pₐ/Tₐ [%/K]',font:'23px "DejaVu Sans"',fill:'#222',textAlign:'center',textVerticalAlign:'middle'}});
})();

const letterPos=[[26,54],[26,458],[24,855],[783,65],[1076,54],[780,617],[1076,606]];
panelLetters.forEach((t,i)=>graphics.push({type:'text',z:8,style:{x:letterPos[i][0],y:letterPos[i][1],text:t,font:'52px "DejaVu Sans"',fill:'#000',textAlign:'center',textVerticalAlign:'bottom'}}));

const chart=echarts.init(document.getElementById('c'),null,{renderer:'canvas'});
chart.setOption({animation:false,backgroundColor:'#fff',textStyle:{fontFamily:FONT},
  tooltip:{show:false},grid:grids,xAxis:xAxes,yAxis:yAxes,legend:legends,series,graphic:{elements:graphics}});
</script></body></html>
